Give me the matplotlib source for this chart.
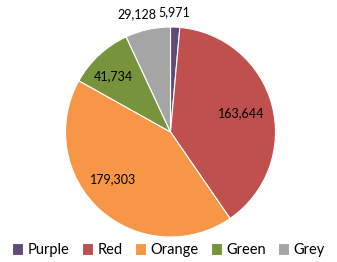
import numpy as np
import matplotlib.pyplot as plt

# datos del grafico
categorias = ["Purple", "Red", "Orange", "Green", "Grey"]
valores = [5971, 163644, 179303, 41734, 29128]
colores = ["#604A7B", "#C0504D", "#F79646", "#77933C", "#A5A5A5"]
# distancia radial de cada etiqueta (fraccion del radio) y ajuste en puntos
dist_etiqueta = [1.14, 0.70, 0.71, 0.76, 1.14]
ajuste = [(-1, 0), (0, 0), (-5, 6), (-2, -2), (-5.5, 1)]

plt.rcParams['font.family'] = ['Lato', 'DejaVu Sans']

fig = plt.figure(figsize=(3.37, 2.62), dpi=100)
# eje cuadrado centrado en la tarta
r_px = 105
cx, cy = 170.5, 132
ax = fig.add_axes([(cx - r_px) / 337, 1 - (cy + r_px) / 262, 2 * r_px / 337, 2 * r_px / 262])

wedges, _ = ax.pie(valores, colors=colores, startangle=90, counterclock=False,
                   radius=1, wedgeprops=dict(edgecolor='white', linewidth=0.8))
ax.set_xlim(-1, 1)
ax.set_ylim(-1, 1)
ax.set_aspect('equal')
ax.axis('off')

for w, v, d, (ox, oy) in zip(wedges, valores, dist_etiqueta, ajuste):
    ang = np.deg2rad((w.theta1 + w.theta2) / 2)
    x, y = d * np.cos(ang), d * np.sin(ang)
    ax.annotate(f"{v:,}", (x, y), xytext=(ox, oy), textcoords='offset points',
                ha='center', va='center', fontsize=9, color='#000000',
                annotation_clip=False)

fig.legend(wedges, categorias, loc='center', bbox_to_anchor=(0.5, 1 - 250 / 262),
           ncol=5, frameon=False, fontsize=10.5, handlelength=0.75, handleheight=0.8,
           handletextpad=0.3, columnspacing=0.85, borderaxespad=0, borderpad=0)

fig.savefig("out.png", dpi=100)
